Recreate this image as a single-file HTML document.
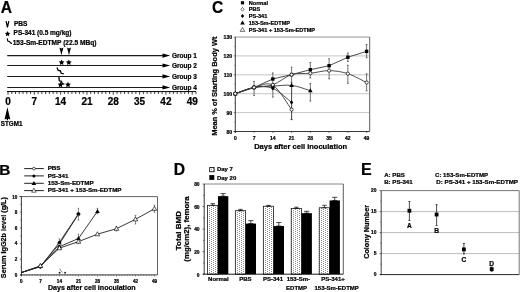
<!DOCTYPE html><html><head><meta charset="utf-8"><style>html,body{margin:0;padding:0;background:#fff;}svg{display:block;filter:blur(0.38px);}text{font-family:"Liberation Sans",sans-serif;font-weight:bold;fill:#000;stroke:#000;stroke-width:0.22px;}</style></head><body>
<svg width="520" height="292" viewBox="0 0 520 292">
<defs><pattern id="dots" width="4" height="2" patternUnits="userSpaceOnUse"><rect width="4" height="2" fill="#fff"/><rect x="1" y="0" width="1" height="1" fill="#8c8c8c"/><rect x="3" y="1" width="1" height="1" fill="#8c8c8c"/></pattern></defs>
<rect width="520" height="292" fill="#fff"/>
<text x="0.70" y="12.60" font-size="15.6" text-anchor="start" >A</text>
<path d="M6.1,21.2 L7.45,27.3 L8.8,21.2" fill="none" stroke="#000" stroke-width="1.25"/>
<text x="13.90" y="26.30" font-size="6.5" text-anchor="start" >PBS</text>
<polygon points="7.60,30.90 8.45,32.63 10.36,32.90 8.98,34.25 9.30,36.15 7.60,35.25 5.90,36.15 6.22,34.25 4.84,32.90 6.75,32.63" fill="#000"/>
<text x="13.60" y="35.40" font-size="6.5" text-anchor="start" >PS-341 (0.5 mg/kg)</text>
<path d="M7.2,38.3 L7.8,41.0 L9.2,41.5 L11.9,43.7" fill="none" stroke="#000" stroke-width="1.1"/>
<text x="12.70" y="45.00" font-size="6.6" text-anchor="start" >153-Sm-EDTMP (22.5 MBq)</text>
<line x1="7.2" y1="55.6" x2="164" y2="55.6" stroke="#1a1a1a" stroke-width="1.05"/>
<path d="M162.5,53.5 L170.2,55.6 L162.5,57.7 Z" fill="#000"/>
<text x="172.00" y="58.20" font-size="6.5" text-anchor="start" >Group 1</text>
<line x1="7.2" y1="65.5" x2="164" y2="65.5" stroke="#1a1a1a" stroke-width="1.05"/>
<path d="M162.5,63.4 L170.2,65.5 L162.5,67.6 Z" fill="#000"/>
<text x="172.00" y="68.10" font-size="6.5" text-anchor="start" >Group 2</text>
<line x1="7.2" y1="76.4" x2="164" y2="76.4" stroke="#1a1a1a" stroke-width="1.05"/>
<path d="M162.5,74.30000000000001 L170.2,76.4 L162.5,78.5 Z" fill="#000"/>
<text x="172.00" y="79.00" font-size="6.5" text-anchor="start" >Group 3</text>
<line x1="7.2" y1="87.4" x2="164" y2="87.4" stroke="#1a1a1a" stroke-width="1.05"/>
<path d="M162.5,85.30000000000001 L170.2,87.4 L162.5,89.5 Z" fill="#000"/>
<text x="172.00" y="90.00" font-size="6.5" text-anchor="start" >Group 4</text>
<path d="M59.40,47.4 L61.40,48.6 L63.40,47.4 L61.40,55.3 Z" fill="#000"/>
<path d="M67.00,47.4 L69.00,48.6 L71.00,47.4 L69.00,55.3 Z" fill="#000"/>
<polygon points="61.60,59.50 62.48,61.29 64.45,61.57 63.03,62.96 63.36,64.93 61.60,64.00 59.84,64.93 60.17,62.96 58.75,61.57 60.72,61.29" fill="#000"/>
<polygon points="68.80,59.50 69.68,61.29 71.65,61.57 70.23,62.96 70.56,64.93 68.80,64.00 67.04,64.93 67.37,62.96 65.95,61.57 67.92,61.29" fill="#000"/>
<path d="M57.0,67.6 L58.2,70.4 L60.4,70.8 L61.2,73.3 L63.8,73.9" fill="none" stroke="#000" stroke-width="1.3"/>
<path d="M58.9,76.9 L59.3,80.8 L61.5,81.3 L62.2,83.6 L64.4,84.1" fill="none" stroke="#000" stroke-width="1.3"/>
<polygon points="60.50,81.80 61.38,83.59 63.35,83.87 61.93,85.26 62.26,87.23 60.50,86.30 58.74,87.23 59.07,85.26 57.65,83.87 59.62,83.59" fill="#000"/>
<polygon points="68.00,81.80 68.88,83.59 70.85,83.87 69.43,85.26 69.76,87.23 68.00,86.30 66.24,87.23 66.57,85.26 65.15,83.87 67.12,83.59" fill="#000"/>
<line x1="7.0" y1="91.6" x2="196" y2="91.6" stroke="#000" stroke-width="1"/>
<line x1="8.00" y1="91.6" x2="8.00" y2="94.80" stroke="#000" stroke-width="0.7"/>
<line x1="11.76" y1="91.6" x2="11.76" y2="94.10" stroke="#000" stroke-width="0.7"/>
<line x1="15.52" y1="91.6" x2="15.52" y2="94.10" stroke="#000" stroke-width="0.7"/>
<line x1="19.28" y1="91.6" x2="19.28" y2="94.10" stroke="#000" stroke-width="0.7"/>
<line x1="23.04" y1="91.6" x2="23.04" y2="94.10" stroke="#000" stroke-width="0.7"/>
<line x1="26.80" y1="91.6" x2="26.80" y2="94.10" stroke="#000" stroke-width="0.7"/>
<line x1="30.56" y1="91.6" x2="30.56" y2="94.10" stroke="#000" stroke-width="0.7"/>
<line x1="34.32" y1="91.6" x2="34.32" y2="94.80" stroke="#000" stroke-width="0.7"/>
<line x1="38.08" y1="91.6" x2="38.08" y2="94.10" stroke="#000" stroke-width="0.7"/>
<line x1="41.84" y1="91.6" x2="41.84" y2="94.10" stroke="#000" stroke-width="0.7"/>
<line x1="45.60" y1="91.6" x2="45.60" y2="94.10" stroke="#000" stroke-width="0.7"/>
<line x1="49.36" y1="91.6" x2="49.36" y2="94.10" stroke="#000" stroke-width="0.7"/>
<line x1="53.12" y1="91.6" x2="53.12" y2="94.10" stroke="#000" stroke-width="0.7"/>
<line x1="56.88" y1="91.6" x2="56.88" y2="94.10" stroke="#000" stroke-width="0.7"/>
<line x1="60.64" y1="91.6" x2="60.64" y2="94.80" stroke="#000" stroke-width="0.7"/>
<line x1="64.40" y1="91.6" x2="64.40" y2="94.10" stroke="#000" stroke-width="0.7"/>
<line x1="68.16" y1="91.6" x2="68.16" y2="94.10" stroke="#000" stroke-width="0.7"/>
<line x1="71.92" y1="91.6" x2="71.92" y2="94.10" stroke="#000" stroke-width="0.7"/>
<line x1="75.68" y1="91.6" x2="75.68" y2="94.10" stroke="#000" stroke-width="0.7"/>
<line x1="79.44" y1="91.6" x2="79.44" y2="94.10" stroke="#000" stroke-width="0.7"/>
<line x1="83.20" y1="91.6" x2="83.20" y2="94.10" stroke="#000" stroke-width="0.7"/>
<line x1="86.96" y1="91.6" x2="86.96" y2="94.80" stroke="#000" stroke-width="0.7"/>
<line x1="90.72" y1="91.6" x2="90.72" y2="94.10" stroke="#000" stroke-width="0.7"/>
<line x1="94.48" y1="91.6" x2="94.48" y2="94.10" stroke="#000" stroke-width="0.7"/>
<line x1="98.24" y1="91.6" x2="98.24" y2="94.10" stroke="#000" stroke-width="0.7"/>
<line x1="102.00" y1="91.6" x2="102.00" y2="94.10" stroke="#000" stroke-width="0.7"/>
<line x1="105.76" y1="91.6" x2="105.76" y2="94.10" stroke="#000" stroke-width="0.7"/>
<line x1="109.52" y1="91.6" x2="109.52" y2="94.10" stroke="#000" stroke-width="0.7"/>
<line x1="113.28" y1="91.6" x2="113.28" y2="94.80" stroke="#000" stroke-width="0.7"/>
<line x1="117.04" y1="91.6" x2="117.04" y2="94.10" stroke="#000" stroke-width="0.7"/>
<line x1="120.80" y1="91.6" x2="120.80" y2="94.10" stroke="#000" stroke-width="0.7"/>
<line x1="124.56" y1="91.6" x2="124.56" y2="94.10" stroke="#000" stroke-width="0.7"/>
<line x1="128.32" y1="91.6" x2="128.32" y2="94.10" stroke="#000" stroke-width="0.7"/>
<line x1="132.08" y1="91.6" x2="132.08" y2="94.10" stroke="#000" stroke-width="0.7"/>
<line x1="135.84" y1="91.6" x2="135.84" y2="94.10" stroke="#000" stroke-width="0.7"/>
<line x1="139.60" y1="91.6" x2="139.60" y2="94.80" stroke="#000" stroke-width="0.7"/>
<line x1="143.36" y1="91.6" x2="143.36" y2="94.10" stroke="#000" stroke-width="0.7"/>
<line x1="147.12" y1="91.6" x2="147.12" y2="94.10" stroke="#000" stroke-width="0.7"/>
<line x1="150.88" y1="91.6" x2="150.88" y2="94.10" stroke="#000" stroke-width="0.7"/>
<line x1="154.64" y1="91.6" x2="154.64" y2="94.10" stroke="#000" stroke-width="0.7"/>
<line x1="158.40" y1="91.6" x2="158.40" y2="94.10" stroke="#000" stroke-width="0.7"/>
<line x1="162.16" y1="91.6" x2="162.16" y2="94.10" stroke="#000" stroke-width="0.7"/>
<line x1="165.92" y1="91.6" x2="165.92" y2="94.80" stroke="#000" stroke-width="0.7"/>
<line x1="169.68" y1="91.6" x2="169.68" y2="94.10" stroke="#000" stroke-width="0.7"/>
<line x1="173.44" y1="91.6" x2="173.44" y2="94.10" stroke="#000" stroke-width="0.7"/>
<line x1="177.20" y1="91.6" x2="177.20" y2="94.10" stroke="#000" stroke-width="0.7"/>
<line x1="180.96" y1="91.6" x2="180.96" y2="94.10" stroke="#000" stroke-width="0.7"/>
<line x1="184.72" y1="91.6" x2="184.72" y2="94.10" stroke="#000" stroke-width="0.7"/>
<line x1="188.48" y1="91.6" x2="188.48" y2="94.10" stroke="#000" stroke-width="0.7"/>
<line x1="192.24" y1="91.6" x2="192.24" y2="94.80" stroke="#000" stroke-width="0.7"/>
<line x1="196.00" y1="91.6" x2="196.00" y2="94.10" stroke="#000" stroke-width="0.7"/>
<text x="8.00" y="105.30" font-size="10" text-anchor="middle" >0</text>
<text x="34.32" y="105.30" font-size="10" text-anchor="middle" >7</text>
<text x="60.64" y="105.30" font-size="10" text-anchor="middle" >14</text>
<text x="86.96" y="105.30" font-size="10" text-anchor="middle" >21</text>
<text x="113.28" y="105.30" font-size="10" text-anchor="middle" >28</text>
<text x="139.60" y="105.30" font-size="10" text-anchor="middle" >35</text>
<text x="165.92" y="105.30" font-size="10" text-anchor="middle" >42</text>
<text x="192.24" y="105.30" font-size="10" text-anchor="middle" >49</text>
<path d="M7.4,107.2 L10.3,119.5 L7.4,118.6 L4.5,119.5 Z" fill="#000"/>
<line x1="7.4" y1="116" x2="7.4" y2="120.2" stroke="#000" stroke-width="1.2"/>
<text x="0.80" y="125.90" font-size="6.3" text-anchor="start" >STGM1</text>
<text x="212.00" y="12.50" font-size="15.6" text-anchor="start" >C</text>
<rect x="240.90" y="1.20" width="3.20" height="3.20" fill="#000"/>
<text x="248.70" y="4.70" font-size="5.6" text-anchor="start" >Normal</text>
<path d="M242.50,7.38 L244.10,9.30 L242.50,11.22 L240.90,9.30 Z" fill="#fff" stroke="#000" stroke-width="0.55"/>
<text x="248.70" y="11.20" font-size="5.6" text-anchor="start" >PBS</text>
<path d="M242.50,13.96 L244.20,16.00 L242.50,18.04 L240.80,16.00 Z" fill="#000"/>
<text x="248.70" y="17.90" font-size="5.6" text-anchor="start" >PS-341</text>
<path d="M242.50,20.50 L244.80,24.50 L240.20,24.50 Z" fill="#000"/>
<text x="248.70" y="24.80" font-size="5.6" text-anchor="start" >153-Sm-EDTMP</text>
<path d="M242.50,27.40 L244.80,31.40 L240.20,31.40 Z" fill="#fff" stroke="#000" stroke-width="0.55"/>
<text x="248.70" y="31.70" font-size="5.6" text-anchor="start" >PS-341 + 153-Sm-EDTMP</text>
<line x1="235.3" y1="112.60" x2="369.6" y2="112.60" stroke="#b8b8b8" stroke-width="0.8"/>
<line x1="235.3" y1="93.70" x2="369.6" y2="93.70" stroke="#b8b8b8" stroke-width="0.8"/>
<line x1="235.3" y1="74.80" x2="369.6" y2="74.80" stroke="#b8b8b8" stroke-width="0.8"/>
<line x1="235.3" y1="55.90" x2="369.6" y2="55.90" stroke="#b8b8b8" stroke-width="0.8"/>
<line x1="235.3" y1="37.00" x2="369.6" y2="37.00" stroke="#888" stroke-width="0.9"/>
<line x1="369.6" y1="37.00" x2="369.6" y2="131.5" stroke="#777" stroke-width="1.2"/>
<line x1="235.3" y1="37.00" x2="235.3" y2="133.0" stroke="#222" stroke-width="0.9"/>
<line x1="233.8" y1="131.5" x2="369.6" y2="131.5" stroke="#222" stroke-width="0.9"/>
<line x1="233.70000000000002" y1="131.50" x2="235.3" y2="131.50" stroke="#333" stroke-width="0.6"/>
<text x="232.20" y="133.70" font-size="5.2" text-anchor="end" >80</text>
<line x1="233.70000000000002" y1="112.60" x2="235.3" y2="112.60" stroke="#333" stroke-width="0.6"/>
<text x="232.20" y="114.80" font-size="5.2" text-anchor="end" >90</text>
<line x1="233.70000000000002" y1="93.70" x2="235.3" y2="93.70" stroke="#333" stroke-width="0.6"/>
<text x="232.20" y="95.90" font-size="5.2" text-anchor="end" >100</text>
<line x1="233.70000000000002" y1="74.80" x2="235.3" y2="74.80" stroke="#333" stroke-width="0.6"/>
<text x="232.20" y="77.00" font-size="5.2" text-anchor="end" >110</text>
<line x1="233.70000000000002" y1="55.90" x2="235.3" y2="55.90" stroke="#333" stroke-width="0.6"/>
<text x="232.20" y="58.10" font-size="5.2" text-anchor="end" >120</text>
<line x1="233.70000000000002" y1="37.00" x2="235.3" y2="37.00" stroke="#333" stroke-width="0.6"/>
<text x="232.20" y="39.20" font-size="5.2" text-anchor="end" >130</text>
<line x1="234.3" y1="122.05" x2="235.3" y2="122.05" stroke="#333" stroke-width="0.5"/>
<line x1="234.3" y1="103.15" x2="235.3" y2="103.15" stroke="#333" stroke-width="0.5"/>
<line x1="234.3" y1="84.25" x2="235.3" y2="84.25" stroke="#333" stroke-width="0.5"/>
<line x1="234.3" y1="65.35" x2="235.3" y2="65.35" stroke="#333" stroke-width="0.5"/>
<line x1="234.3" y1="46.45" x2="235.3" y2="46.45" stroke="#333" stroke-width="0.5"/>
<line x1="235.30" y1="131.5" x2="235.30" y2="133.0" stroke="#333" stroke-width="0.6"/>
<text x="235.30" y="140.30" font-size="5.0" text-anchor="middle" >0</text>
<line x1="254.06" y1="131.5" x2="254.06" y2="133.0" stroke="#333" stroke-width="0.6"/>
<text x="254.06" y="140.30" font-size="5.0" text-anchor="middle" >7</text>
<line x1="272.82" y1="131.5" x2="272.82" y2="133.0" stroke="#333" stroke-width="0.6"/>
<text x="272.82" y="140.30" font-size="5.0" text-anchor="middle" >14</text>
<line x1="291.58" y1="131.5" x2="291.58" y2="133.0" stroke="#333" stroke-width="0.6"/>
<text x="291.58" y="140.30" font-size="5.0" text-anchor="middle" >21</text>
<line x1="310.34" y1="131.5" x2="310.34" y2="133.0" stroke="#333" stroke-width="0.6"/>
<text x="310.34" y="140.30" font-size="5.0" text-anchor="middle" >28</text>
<line x1="329.10" y1="131.5" x2="329.10" y2="133.0" stroke="#333" stroke-width="0.6"/>
<text x="329.10" y="140.30" font-size="5.0" text-anchor="middle" >35</text>
<line x1="347.86" y1="131.5" x2="347.86" y2="133.0" stroke="#333" stroke-width="0.6"/>
<text x="347.86" y="140.30" font-size="5.0" text-anchor="middle" >42</text>
<line x1="366.62" y1="131.5" x2="366.62" y2="133.0" stroke="#333" stroke-width="0.6"/>
<text x="366.62" y="140.30" font-size="5.0" text-anchor="middle" >49</text>
<text x="254.20" y="148.60" font-size="7.5" text-anchor="start" >Days after cell inoculation</text>
<text transform="translate(217.1,86.2) rotate(-90)" font-size="7.45" text-anchor="middle">Mean % of Starting Body Wt</text>
<line x1="254.06" y1="81.41" x2="254.06" y2="95.59" stroke="#444" stroke-width="0.75"/>
<line x1="253.16" y1="81.41" x2="254.96" y2="81.41" stroke="#444" stroke-width="0.75"/>
<line x1="253.16" y1="95.59" x2="254.96" y2="95.59" stroke="#444" stroke-width="0.75"/>
<line x1="272.82" y1="72.91" x2="272.82" y2="97.10" stroke="#444" stroke-width="0.75"/>
<line x1="271.92" y1="72.91" x2="273.72" y2="72.91" stroke="#444" stroke-width="0.75"/>
<line x1="271.92" y1="97.10" x2="273.72" y2="97.10" stroke="#444" stroke-width="0.75"/>
<line x1="291.58" y1="67.24" x2="291.58" y2="119.59" stroke="#444" stroke-width="0.75"/>
<line x1="290.68" y1="67.24" x2="292.48" y2="67.24" stroke="#444" stroke-width="0.75"/>
<line x1="290.68" y1="119.59" x2="292.48" y2="119.59" stroke="#444" stroke-width="0.75"/>
<line x1="291.58" y1="82.36" x2="291.58" y2="119.59" stroke="#444" stroke-width="0.75"/>
<line x1="290.68" y1="82.36" x2="292.48" y2="82.36" stroke="#444" stroke-width="0.75"/>
<line x1="290.68" y1="119.59" x2="292.48" y2="119.59" stroke="#444" stroke-width="0.75"/>
<line x1="310.34" y1="62.52" x2="310.34" y2="78.01" stroke="#444" stroke-width="0.75"/>
<line x1="309.44" y1="62.52" x2="311.24" y2="62.52" stroke="#444" stroke-width="0.75"/>
<line x1="309.44" y1="78.01" x2="311.24" y2="78.01" stroke="#444" stroke-width="0.75"/>
<line x1="329.10" y1="58.73" x2="329.10" y2="78.77" stroke="#444" stroke-width="0.75"/>
<line x1="328.20" y1="58.73" x2="330.00" y2="58.73" stroke="#444" stroke-width="0.75"/>
<line x1="328.20" y1="78.77" x2="330.00" y2="78.77" stroke="#444" stroke-width="0.75"/>
<line x1="347.86" y1="53.06" x2="347.86" y2="61.57" stroke="#444" stroke-width="0.75"/>
<line x1="346.96" y1="53.06" x2="348.76" y2="53.06" stroke="#444" stroke-width="0.75"/>
<line x1="346.96" y1="61.57" x2="348.76" y2="61.57" stroke="#444" stroke-width="0.75"/>
<line x1="347.86" y1="65.35" x2="347.86" y2="83.31" stroke="#444" stroke-width="0.75"/>
<line x1="346.96" y1="65.35" x2="348.76" y2="65.35" stroke="#444" stroke-width="0.75"/>
<line x1="346.96" y1="83.31" x2="348.76" y2="83.31" stroke="#444" stroke-width="0.75"/>
<line x1="366.62" y1="44.56" x2="366.62" y2="57.79" stroke="#444" stroke-width="0.75"/>
<line x1="365.72" y1="44.56" x2="367.52" y2="44.56" stroke="#444" stroke-width="0.75"/>
<line x1="365.72" y1="57.79" x2="367.52" y2="57.79" stroke="#444" stroke-width="0.75"/>
<line x1="366.62" y1="73.86" x2="366.62" y2="90.87" stroke="#444" stroke-width="0.75"/>
<line x1="365.72" y1="73.86" x2="367.52" y2="73.86" stroke="#444" stroke-width="0.75"/>
<line x1="365.72" y1="90.87" x2="367.52" y2="90.87" stroke="#444" stroke-width="0.75"/>
<line x1="310.34" y1="83.68" x2="310.34" y2="101.07" stroke="#444" stroke-width="0.75"/>
<line x1="309.44" y1="83.68" x2="311.24" y2="83.68" stroke="#444" stroke-width="0.75"/>
<line x1="309.44" y1="101.07" x2="311.24" y2="101.07" stroke="#444" stroke-width="0.75"/>
<polyline points="235.30,93.70 254.06,87.46 272.82,78.96 291.58,74.61 310.34,69.70 329.10,65.73 347.86,57.22 366.62,51.36" fill="none" stroke="#3a3a3a" stroke-width="0.9"/>
<path d="M235.30,93.70 C238.43,92.66 247.81,88.88 254.06,87.46 C260.31,86.05 266.57,81.51 272.82,85.19 C279.07,88.88 288.45,105.51 291.58,109.58" fill="none" stroke="#3a3a3a" stroke-width="0.9"/>
<path d="M235.30,93.70 C238.43,92.66 247.81,88.34 254.06,87.46 C260.31,86.58 266.57,85.92 272.82,88.41 C279.07,90.90 288.45,100.06 291.58,102.39" fill="none" stroke="#3a3a3a" stroke-width="0.9"/>
<path d="M235.30,93.70 C238.43,92.66 247.81,88.72 254.06,87.46 C260.31,86.20 266.57,86.49 272.82,86.14 C279.07,85.79 285.33,84.63 291.58,85.38 C297.83,86.14 307.21,89.79 310.34,90.68" fill="none" stroke="#3a3a3a" stroke-width="0.9"/>
<path d="M235.30,93.70 C238.43,92.66 247.81,88.94 254.06,87.46 C260.31,85.98 266.57,86.96 272.82,84.82 C279.07,82.68 285.33,76.53 291.58,74.61 C297.83,72.69 304.09,73.95 310.34,73.29 C316.59,72.63 322.85,70.58 329.10,70.64 C335.35,70.70 341.61,71.68 347.86,73.67 C354.11,75.65 363.49,81.07 366.62,82.55" fill="none" stroke="#3a3a3a" stroke-width="0.9"/>
<rect x="233.60" y="92.00" width="3.40" height="3.40" fill="#000"/>
<rect x="252.36" y="85.76" width="3.40" height="3.40" fill="#000"/>
<rect x="271.12" y="77.26" width="3.40" height="3.40" fill="#000"/>
<rect x="289.88" y="72.91" width="3.40" height="3.40" fill="#000"/>
<rect x="308.64" y="68.00" width="3.40" height="3.40" fill="#000"/>
<rect x="327.40" y="64.03" width="3.40" height="3.40" fill="#000"/>
<rect x="346.16" y="55.52" width="3.40" height="3.40" fill="#000"/>
<rect x="364.92" y="49.66" width="3.40" height="3.40" fill="#000"/>
<circle cx="235.30" cy="93.70" r="1.60" fill="#fff" stroke="#000" stroke-width="0.7"/>
<circle cx="254.06" cy="87.46" r="1.60" fill="#fff" stroke="#000" stroke-width="0.7"/>
<circle cx="272.82" cy="85.19" r="1.60" fill="#fff" stroke="#000" stroke-width="0.7"/>
<circle cx="291.58" cy="109.58" r="1.60" fill="#fff" stroke="#000" stroke-width="0.7"/>
<path d="M235.30,91.66 L237.00,93.70 L235.30,95.74 L233.60,93.70 Z" fill="#000"/>
<path d="M254.06,85.42 L255.76,87.46 L254.06,89.50 L252.36,87.46 Z" fill="#000"/>
<path d="M272.82,86.37 L274.52,88.41 L272.82,90.45 L271.12,88.41 Z" fill="#000"/>
<path d="M291.58,100.35 L293.28,102.39 L291.58,104.43 L289.88,102.39 Z" fill="#000"/>
<path d="M235.30,91.30 L237.60,95.30 L233.00,95.30 Z" fill="#000"/>
<path d="M254.06,85.06 L256.36,89.06 L251.76,89.06 Z" fill="#000"/>
<path d="M272.82,83.74 L275.12,87.74 L270.52,87.74 Z" fill="#000"/>
<path d="M291.58,82.98 L293.88,86.98 L289.28,86.98 Z" fill="#000"/>
<path d="M310.34,88.28 L312.64,92.28 L308.04,92.28 Z" fill="#000"/>
<circle cx="235.30" cy="93.70" r="1.60" fill="#fff" stroke="#000" stroke-width="0.7"/>
<circle cx="254.06" cy="87.46" r="1.60" fill="#fff" stroke="#000" stroke-width="0.7"/>
<circle cx="272.82" cy="84.82" r="1.60" fill="#fff" stroke="#000" stroke-width="0.7"/>
<circle cx="291.58" cy="74.61" r="1.60" fill="#fff" stroke="#000" stroke-width="0.7"/>
<circle cx="310.34" cy="73.29" r="1.60" fill="#fff" stroke="#000" stroke-width="0.7"/>
<circle cx="329.10" cy="70.64" r="1.60" fill="#fff" stroke="#000" stroke-width="0.7"/>
<circle cx="347.86" cy="73.67" r="1.60" fill="#fff" stroke="#000" stroke-width="0.7"/>
<circle cx="366.62" cy="82.55" r="1.60" fill="#fff" stroke="#000" stroke-width="0.7"/>
<text x="-0.80" y="175.10" font-size="15.4" text-anchor="start" >B</text>
<line x1="24.2" y1="168.6" x2="43.8" y2="168.6" stroke="#222" stroke-width="1.0"/>
<circle cx="33.90" cy="168.60" r="1.40" fill="#fff" stroke="#000" stroke-width="0.6"/>
<text x="47.70" y="170.35" font-size="6.22" text-anchor="start" >PBS</text>
<line x1="24.2" y1="175.9" x2="43.8" y2="175.9" stroke="#222" stroke-width="1.0"/>
<circle cx="33.90" cy="175.90" r="1.50" fill="#000"/>
<text x="47.70" y="177.65" font-size="6.22" text-anchor="start" >PS-341</text>
<line x1="24.2" y1="183.3" x2="43.8" y2="183.3" stroke="#222" stroke-width="1.0"/>
<path d="M33.90,180.90 L36.20,184.90 L31.60,184.90 Z" fill="#000"/>
<text x="47.70" y="185.05" font-size="6.22" text-anchor="start" >153-Sm-EDTMP</text>
<line x1="24.2" y1="190.6" x2="43.8" y2="190.6" stroke="#222" stroke-width="1.0"/>
<path d="M33.90,188.20 L36.20,192.20 L31.60,192.20 Z" fill="#fff" stroke="#000" stroke-width="0.6"/>
<text x="47.70" y="192.35" font-size="6.22" text-anchor="start" >PS-341 + 153-Sm-EDTMP</text>
<line x1="19.4" y1="196.6" x2="157.5" y2="196.6" stroke="#666" stroke-width="1"/>
<line x1="157.5" y1="196.5" x2="157.5" y2="274.9" stroke="#555" stroke-width="0.9"/>
<line x1="21.4" y1="196.5" x2="21.4" y2="276.09999999999997" stroke="#222" stroke-width="0.9"/>
<line x1="20.2" y1="274.9" x2="157.5" y2="274.9" stroke="#222" stroke-width="0.9"/>
<line x1="19.9" y1="274.90" x2="21.4" y2="274.90" stroke="#222" stroke-width="0.6"/>
<text x="17.30" y="276.80" font-size="4.6" text-anchor="end" >0</text>
<line x1="19.9" y1="259.24" x2="21.4" y2="259.24" stroke="#222" stroke-width="0.6"/>
<text x="17.30" y="261.14" font-size="4.6" text-anchor="end" >2</text>
<line x1="19.9" y1="243.58" x2="21.4" y2="243.58" stroke="#222" stroke-width="0.6"/>
<text x="17.30" y="245.48" font-size="4.6" text-anchor="end" >4</text>
<line x1="19.9" y1="227.92" x2="21.4" y2="227.92" stroke="#222" stroke-width="0.6"/>
<text x="17.30" y="229.82" font-size="4.6" text-anchor="end" >6</text>
<line x1="19.9" y1="212.26" x2="21.4" y2="212.26" stroke="#222" stroke-width="0.6"/>
<text x="17.30" y="214.16" font-size="4.6" text-anchor="end" >8</text>
<line x1="19.9" y1="196.60" x2="21.4" y2="196.60" stroke="#222" stroke-width="0.6"/>
<text x="17.30" y="198.50" font-size="4.6" text-anchor="end" >10</text>
<line x1="20.4" y1="267.07" x2="21.4" y2="267.07" stroke="#222" stroke-width="0.5"/>
<line x1="20.4" y1="251.41" x2="21.4" y2="251.41" stroke="#222" stroke-width="0.5"/>
<line x1="20.4" y1="235.75" x2="21.4" y2="235.75" stroke="#222" stroke-width="0.5"/>
<line x1="20.4" y1="220.09" x2="21.4" y2="220.09" stroke="#222" stroke-width="0.5"/>
<line x1="20.4" y1="204.43" x2="21.4" y2="204.43" stroke="#222" stroke-width="0.5"/>
<line x1="21.40" y1="274.9" x2="21.40" y2="276.5" stroke="#222" stroke-width="0.5"/>
<line x1="24.12" y1="274.9" x2="24.12" y2="275.9" stroke="#222" stroke-width="0.5"/>
<line x1="26.83" y1="274.9" x2="26.83" y2="275.9" stroke="#222" stroke-width="0.5"/>
<line x1="29.55" y1="274.9" x2="29.55" y2="275.9" stroke="#222" stroke-width="0.5"/>
<line x1="32.26" y1="274.9" x2="32.26" y2="275.9" stroke="#222" stroke-width="0.5"/>
<line x1="34.98" y1="274.9" x2="34.98" y2="275.9" stroke="#222" stroke-width="0.5"/>
<line x1="37.70" y1="274.9" x2="37.70" y2="275.9" stroke="#222" stroke-width="0.5"/>
<line x1="40.41" y1="274.9" x2="40.41" y2="276.5" stroke="#222" stroke-width="0.5"/>
<line x1="43.13" y1="274.9" x2="43.13" y2="275.9" stroke="#222" stroke-width="0.5"/>
<line x1="45.84" y1="274.9" x2="45.84" y2="275.9" stroke="#222" stroke-width="0.5"/>
<line x1="48.56" y1="274.9" x2="48.56" y2="275.9" stroke="#222" stroke-width="0.5"/>
<line x1="51.28" y1="274.9" x2="51.28" y2="275.9" stroke="#222" stroke-width="0.5"/>
<line x1="53.99" y1="274.9" x2="53.99" y2="275.9" stroke="#222" stroke-width="0.5"/>
<line x1="56.71" y1="274.9" x2="56.71" y2="275.9" stroke="#222" stroke-width="0.5"/>
<line x1="59.42" y1="274.9" x2="59.42" y2="276.5" stroke="#222" stroke-width="0.5"/>
<line x1="62.14" y1="274.9" x2="62.14" y2="275.9" stroke="#222" stroke-width="0.5"/>
<line x1="64.86" y1="274.9" x2="64.86" y2="275.9" stroke="#222" stroke-width="0.5"/>
<line x1="67.57" y1="274.9" x2="67.57" y2="275.9" stroke="#222" stroke-width="0.5"/>
<line x1="70.29" y1="274.9" x2="70.29" y2="275.9" stroke="#222" stroke-width="0.5"/>
<line x1="73.00" y1="274.9" x2="73.00" y2="275.9" stroke="#222" stroke-width="0.5"/>
<line x1="75.72" y1="274.9" x2="75.72" y2="275.9" stroke="#222" stroke-width="0.5"/>
<line x1="78.44" y1="274.9" x2="78.44" y2="276.5" stroke="#222" stroke-width="0.5"/>
<line x1="81.15" y1="274.9" x2="81.15" y2="275.9" stroke="#222" stroke-width="0.5"/>
<line x1="83.87" y1="274.9" x2="83.87" y2="275.9" stroke="#222" stroke-width="0.5"/>
<line x1="86.58" y1="274.9" x2="86.58" y2="275.9" stroke="#222" stroke-width="0.5"/>
<line x1="89.30" y1="274.9" x2="89.30" y2="275.9" stroke="#222" stroke-width="0.5"/>
<line x1="92.02" y1="274.9" x2="92.02" y2="275.9" stroke="#222" stroke-width="0.5"/>
<line x1="94.73" y1="274.9" x2="94.73" y2="275.9" stroke="#222" stroke-width="0.5"/>
<line x1="97.45" y1="274.9" x2="97.45" y2="276.5" stroke="#222" stroke-width="0.5"/>
<line x1="100.16" y1="274.9" x2="100.16" y2="275.9" stroke="#222" stroke-width="0.5"/>
<line x1="102.88" y1="274.9" x2="102.88" y2="275.9" stroke="#222" stroke-width="0.5"/>
<line x1="105.60" y1="274.9" x2="105.60" y2="275.9" stroke="#222" stroke-width="0.5"/>
<line x1="108.31" y1="274.9" x2="108.31" y2="275.9" stroke="#222" stroke-width="0.5"/>
<line x1="111.03" y1="274.9" x2="111.03" y2="275.9" stroke="#222" stroke-width="0.5"/>
<line x1="113.74" y1="274.9" x2="113.74" y2="275.9" stroke="#222" stroke-width="0.5"/>
<line x1="116.46" y1="274.9" x2="116.46" y2="276.5" stroke="#222" stroke-width="0.5"/>
<line x1="119.18" y1="274.9" x2="119.18" y2="275.9" stroke="#222" stroke-width="0.5"/>
<line x1="121.89" y1="274.9" x2="121.89" y2="275.9" stroke="#222" stroke-width="0.5"/>
<line x1="124.61" y1="274.9" x2="124.61" y2="275.9" stroke="#222" stroke-width="0.5"/>
<line x1="127.32" y1="274.9" x2="127.32" y2="275.9" stroke="#222" stroke-width="0.5"/>
<line x1="130.04" y1="274.9" x2="130.04" y2="275.9" stroke="#222" stroke-width="0.5"/>
<line x1="132.76" y1="274.9" x2="132.76" y2="275.9" stroke="#222" stroke-width="0.5"/>
<line x1="135.47" y1="274.9" x2="135.47" y2="276.5" stroke="#222" stroke-width="0.5"/>
<line x1="138.19" y1="274.9" x2="138.19" y2="275.9" stroke="#222" stroke-width="0.5"/>
<line x1="140.90" y1="274.9" x2="140.90" y2="275.9" stroke="#222" stroke-width="0.5"/>
<line x1="143.62" y1="274.9" x2="143.62" y2="275.9" stroke="#222" stroke-width="0.5"/>
<line x1="146.34" y1="274.9" x2="146.34" y2="275.9" stroke="#222" stroke-width="0.5"/>
<line x1="149.05" y1="274.9" x2="149.05" y2="275.9" stroke="#222" stroke-width="0.5"/>
<line x1="151.77" y1="274.9" x2="151.77" y2="275.9" stroke="#222" stroke-width="0.5"/>
<line x1="154.48" y1="274.9" x2="154.48" y2="276.5" stroke="#222" stroke-width="0.5"/>
<text x="21.40" y="283.00" font-size="4.6" text-anchor="middle" >0</text>
<text x="40.41" y="283.00" font-size="4.6" text-anchor="middle" >7</text>
<text x="59.42" y="283.00" font-size="4.6" text-anchor="middle" >14</text>
<text x="78.44" y="283.00" font-size="4.6" text-anchor="middle" >21</text>
<text x="97.45" y="283.00" font-size="4.6" text-anchor="middle" >28</text>
<text x="116.46" y="283.00" font-size="4.6" text-anchor="middle" >35</text>
<text x="135.47" y="283.00" font-size="4.6" text-anchor="middle" >42</text>
<text x="154.48" y="283.00" font-size="4.6" text-anchor="middle" >49</text>
<text x="48.00" y="289.70" font-size="7.07" text-anchor="start" >Days after cell inoculation</text>
<text transform="translate(6.0,237.6) rotate(-90)" font-size="7.28" text-anchor="middle">Serum IgG2b level (g/L)</text>
<line x1="40.41" y1="263.94" x2="40.41" y2="268.64" stroke="#222" stroke-width="0.5"/>
<line x1="39.61" y1="263.94" x2="41.21" y2="263.94" stroke="#222" stroke-width="0.5"/>
<line x1="39.61" y1="268.64" x2="41.21" y2="268.64" stroke="#222" stroke-width="0.5"/>
<line x1="59.42" y1="238.88" x2="59.42" y2="247.49" stroke="#222" stroke-width="0.5"/>
<line x1="58.62" y1="238.88" x2="60.22" y2="238.88" stroke="#222" stroke-width="0.5"/>
<line x1="58.62" y1="247.49" x2="60.22" y2="247.49" stroke="#222" stroke-width="0.5"/>
<line x1="78.44" y1="208.34" x2="78.44" y2="220.09" stroke="#222" stroke-width="0.5"/>
<line x1="77.64" y1="208.34" x2="79.24" y2="208.34" stroke="#222" stroke-width="0.5"/>
<line x1="77.64" y1="220.09" x2="79.24" y2="220.09" stroke="#222" stroke-width="0.5"/>
<line x1="78.44" y1="234.18" x2="78.44" y2="243.58" stroke="#222" stroke-width="0.5"/>
<line x1="77.64" y1="234.18" x2="79.24" y2="234.18" stroke="#222" stroke-width="0.5"/>
<line x1="77.64" y1="243.58" x2="79.24" y2="243.58" stroke="#222" stroke-width="0.5"/>
<line x1="97.45" y1="208.34" x2="97.45" y2="213.83" stroke="#222" stroke-width="0.5"/>
<line x1="96.65" y1="208.34" x2="98.25" y2="208.34" stroke="#222" stroke-width="0.5"/>
<line x1="96.65" y1="213.83" x2="98.25" y2="213.83" stroke="#222" stroke-width="0.5"/>
<line x1="116.46" y1="226.35" x2="116.46" y2="231.05" stroke="#222" stroke-width="0.5"/>
<line x1="115.66" y1="226.35" x2="117.26" y2="226.35" stroke="#222" stroke-width="0.5"/>
<line x1="115.66" y1="231.05" x2="117.26" y2="231.05" stroke="#222" stroke-width="0.5"/>
<line x1="135.47" y1="215.39" x2="135.47" y2="224.00" stroke="#222" stroke-width="0.5"/>
<line x1="134.67" y1="215.39" x2="136.27" y2="215.39" stroke="#222" stroke-width="0.5"/>
<line x1="134.67" y1="224.00" x2="136.27" y2="224.00" stroke="#222" stroke-width="0.5"/>
<line x1="154.48" y1="205.21" x2="154.48" y2="212.26" stroke="#222" stroke-width="0.5"/>
<line x1="153.68" y1="205.21" x2="155.28" y2="205.21" stroke="#222" stroke-width="0.5"/>
<line x1="153.68" y1="212.26" x2="155.28" y2="212.26" stroke="#222" stroke-width="0.5"/>
<polyline points="21.40,272.55 40.41,266.29 59.42,243.97 78.44,214.22" fill="none" stroke="#222" stroke-width="0.9"/>
<polyline points="21.40,272.55 40.41,266.68 59.42,242.41 78.44,213.83" fill="none" stroke="#222" stroke-width="0.9"/>
<polyline points="21.40,272.55 40.41,266.29 59.42,246.71 78.44,238.49 97.45,211.48" fill="none" stroke="#222" stroke-width="0.9"/>
<polyline points="21.40,272.55 40.41,265.90 59.42,248.12 78.44,241.62 97.45,234.18 116.46,228.70 135.47,219.31 154.48,208.74" fill="none" stroke="#222" stroke-width="0.9"/>
<circle cx="40.41" cy="266.29" r="1.60" fill="#fff" stroke="#000" stroke-width="0.65"/>
<circle cx="59.42" cy="243.97" r="1.60" fill="#fff" stroke="#000" stroke-width="0.65"/>
<circle cx="78.44" cy="214.22" r="1.60" fill="#fff" stroke="#000" stroke-width="0.65"/>
<circle cx="40.41" cy="266.68" r="1.70" fill="#000"/>
<circle cx="59.42" cy="242.41" r="1.70" fill="#000"/>
<circle cx="78.44" cy="213.83" r="1.70" fill="#000"/>
<path d="M40.41,263.89 L42.71,267.89 L38.11,267.89 Z" fill="#000"/>
<path d="M59.42,244.31 L61.72,248.31 L57.12,248.31 Z" fill="#000"/>
<path d="M78.44,236.09 L80.74,240.09 L76.14,240.09 Z" fill="#000"/>
<path d="M97.45,209.08 L99.75,213.08 L95.15,213.08 Z" fill="#000"/>
<path d="M40.41,263.50 L42.71,267.50 L38.11,267.50 Z" fill="#fff" stroke="#000" stroke-width="0.65"/>
<path d="M59.42,245.72 L61.72,249.72 L57.12,249.72 Z" fill="#fff" stroke="#000" stroke-width="0.65"/>
<path d="M78.44,239.22 L80.74,243.22 L76.14,243.22 Z" fill="#fff" stroke="#000" stroke-width="0.65"/>
<path d="M97.45,231.78 L99.75,235.78 L95.15,235.78 Z" fill="#fff" stroke="#000" stroke-width="0.65"/>
<path d="M116.46,226.30 L118.76,230.30 L114.16,230.30 Z" fill="#fff" stroke="#000" stroke-width="0.65"/>
<path d="M135.47,216.91 L137.77,220.91 L133.17,220.91 Z" fill="#fff" stroke="#000" stroke-width="0.65"/>
<path d="M154.48,206.34 L156.78,210.34 L152.18,210.34 Z" fill="#fff" stroke="#000" stroke-width="0.65"/>
<path d="M59.9,268.5 L60.6,270.6 L62.8,272.4" fill="none" stroke="#555" stroke-width="0.7"/>
<circle cx="59.6" cy="272.8" r="0.95" fill="#222"/><circle cx="65.1" cy="272.8" r="0.95" fill="#222"/>
<text x="173.80" y="175.30" font-size="15.7" text-anchor="start" >D</text>
<rect x="209.7" y="167.4" width="4.4" height="4.4" fill="url(#dots)" stroke="#000" stroke-width="0.8"/>
<rect x="209.3" y="175.1" width="5" height="4.8" fill="#000"/>
<text x="216.90" y="171.40" font-size="6.0" text-anchor="start" >Day 7</text>
<text x="216.90" y="179.50" font-size="6.0" text-anchor="start" >Day 20</text>
<line x1="204.2" y1="184.00" x2="343.3" y2="184.00" stroke="#777" stroke-width="0.9"/>
<line x1="343.3" y1="184.00" x2="343.3" y2="274.2" stroke="#333" stroke-width="0.8"/>
<rect x="207.60" y="205.31" width="10.35" height="68.89" fill="url(#dots)" stroke="#000" stroke-width="0.7"/>
<rect x="217.95" y="196.18" width="10.35" height="78.02" fill="#000"/>
<line x1="212.78" y1="203.62" x2="212.78" y2="205.31" stroke="#000" stroke-width="0.7"/>
<line x1="210.58" y1="203.62" x2="214.97" y2="203.62" stroke="#000" stroke-width="0.7"/>
<line x1="210.58" y1="205.31" x2="214.97" y2="205.31" stroke="#000" stroke-width="0.7"/>
<line x1="223.12" y1="193.58" x2="223.12" y2="196.18" stroke="#000" stroke-width="0.7"/>
<line x1="220.53" y1="193.58" x2="225.72" y2="193.58" stroke="#000" stroke-width="0.7"/>
<line x1="220.53" y1="196.18" x2="225.72" y2="196.18" stroke="#000" stroke-width="0.7"/>
<rect x="235.30" y="210.72" width="10.35" height="63.48" fill="url(#dots)" stroke="#000" stroke-width="0.7"/>
<rect x="245.65" y="223.58" width="10.35" height="50.62" fill="#000"/>
<line x1="240.48" y1="209.37" x2="240.48" y2="210.72" stroke="#000" stroke-width="0.7"/>
<line x1="238.28" y1="209.37" x2="242.68" y2="209.37" stroke="#000" stroke-width="0.7"/>
<line x1="238.28" y1="210.72" x2="242.68" y2="210.72" stroke="#000" stroke-width="0.7"/>
<line x1="250.83" y1="220.64" x2="250.83" y2="223.58" stroke="#000" stroke-width="0.7"/>
<line x1="248.23" y1="220.64" x2="253.43" y2="220.64" stroke="#000" stroke-width="0.7"/>
<line x1="248.23" y1="223.58" x2="253.43" y2="223.58" stroke="#000" stroke-width="0.7"/>
<rect x="263.30" y="206.21" width="10.35" height="67.99" fill="url(#dots)" stroke="#000" stroke-width="0.7"/>
<rect x="273.65" y="226.06" width="10.35" height="48.14" fill="#000"/>
<line x1="268.48" y1="205.42" x2="268.48" y2="206.21" stroke="#000" stroke-width="0.7"/>
<line x1="266.28" y1="205.42" x2="270.68" y2="205.42" stroke="#000" stroke-width="0.7"/>
<line x1="266.28" y1="206.21" x2="270.68" y2="206.21" stroke="#000" stroke-width="0.7"/>
<line x1="278.82" y1="222.56" x2="278.82" y2="226.06" stroke="#000" stroke-width="0.7"/>
<line x1="276.22" y1="222.56" x2="281.43" y2="222.56" stroke="#000" stroke-width="0.7"/>
<line x1="276.22" y1="226.06" x2="281.43" y2="226.06" stroke="#000" stroke-width="0.7"/>
<rect x="291.20" y="208.35" width="10.35" height="65.85" fill="url(#dots)" stroke="#000" stroke-width="0.7"/>
<rect x="301.55" y="213.20" width="10.35" height="61.00" fill="#000"/>
<line x1="296.38" y1="207.23" x2="296.38" y2="208.35" stroke="#000" stroke-width="0.7"/>
<line x1="294.18" y1="207.23" x2="298.57" y2="207.23" stroke="#000" stroke-width="0.7"/>
<line x1="294.18" y1="208.35" x2="298.57" y2="208.35" stroke="#000" stroke-width="0.7"/>
<line x1="306.72" y1="211.29" x2="306.72" y2="213.20" stroke="#000" stroke-width="0.7"/>
<line x1="304.12" y1="211.29" x2="309.32" y2="211.29" stroke="#000" stroke-width="0.7"/>
<line x1="304.12" y1="213.20" x2="309.32" y2="213.20" stroke="#000" stroke-width="0.7"/>
<rect x="319.20" y="207.79" width="10.35" height="66.41" fill="url(#dots)" stroke="#000" stroke-width="0.7"/>
<rect x="329.55" y="200.46" width="10.35" height="73.74" fill="#000"/>
<line x1="324.38" y1="205.31" x2="324.38" y2="207.79" stroke="#000" stroke-width="0.7"/>
<line x1="322.18" y1="205.31" x2="326.57" y2="205.31" stroke="#000" stroke-width="0.7"/>
<line x1="322.18" y1="207.79" x2="326.57" y2="207.79" stroke="#000" stroke-width="0.7"/>
<line x1="334.72" y1="197.30" x2="334.72" y2="200.46" stroke="#000" stroke-width="0.7"/>
<line x1="332.12" y1="197.30" x2="337.32" y2="197.30" stroke="#000" stroke-width="0.7"/>
<line x1="332.12" y1="200.46" x2="337.32" y2="200.46" stroke="#000" stroke-width="0.7"/>
<line x1="204.2" y1="184.00" x2="204.2" y2="274.2" stroke="#000" stroke-width="0.8"/>
<line x1="202.79999999999998" y1="274.2" x2="343.3" y2="274.2" stroke="#000" stroke-width="0.9"/>
<line x1="202.6" y1="274.20" x2="204.2" y2="274.20" stroke="#000" stroke-width="0.6"/>
<line x1="203.2" y1="262.93" x2="204.2" y2="262.93" stroke="#000" stroke-width="0.6"/>
<line x1="202.6" y1="251.65" x2="204.2" y2="251.65" stroke="#000" stroke-width="0.6"/>
<line x1="203.2" y1="240.38" x2="204.2" y2="240.38" stroke="#000" stroke-width="0.6"/>
<line x1="202.6" y1="229.10" x2="204.2" y2="229.10" stroke="#000" stroke-width="0.6"/>
<line x1="203.2" y1="217.82" x2="204.2" y2="217.82" stroke="#000" stroke-width="0.6"/>
<line x1="202.6" y1="206.55" x2="204.2" y2="206.55" stroke="#000" stroke-width="0.6"/>
<line x1="203.2" y1="195.27" x2="204.2" y2="195.27" stroke="#000" stroke-width="0.6"/>
<line x1="202.6" y1="184.00" x2="204.2" y2="184.00" stroke="#000" stroke-width="0.6"/>
<text x="199.60" y="276.50" font-size="4.9" text-anchor="end" >0</text>
<text x="199.60" y="253.95" font-size="4.9" text-anchor="end" >20</text>
<text x="199.60" y="231.40" font-size="4.9" text-anchor="end" >40</text>
<text x="199.60" y="208.85" font-size="4.9" text-anchor="end" >60</text>
<text x="199.60" y="186.30" font-size="4.9" text-anchor="end" >80</text>
<text x="218.40" y="281.00" font-size="6.0" text-anchor="middle" >Normal</text>
<text x="245.30" y="281.00" font-size="6.0" text-anchor="middle" >PBS</text>
<text x="273.00" y="281.00" font-size="6.0" text-anchor="middle" >PS-341</text>
<text x="298.30" y="281.00" font-size="6.0" text-anchor="middle" >153-Sm-</text>
<text x="333.00" y="281.00" font-size="6.0" text-anchor="middle" >PS-341+</text>
<text x="296.60" y="290.40" font-size="6.0" text-anchor="middle" >EDTMP</text>
<text x="336.70" y="290.40" font-size="6.0" text-anchor="middle" >153-Sm-EDTMP</text>
<text transform="translate(181.0,230.6) rotate(-90)" font-size="8.05" text-anchor="middle">Total BMD</text>
<text transform="translate(188.9,229.0) rotate(-90)" font-size="7.85" text-anchor="middle">(mg/cm2), femora</text>
<text x="361.00" y="175.40" font-size="16" text-anchor="start" >E</text>
<text x="384.20" y="176.70" font-size="6.1" text-anchor="start" >A: PBS</text>
<text x="384.20" y="183.60" font-size="6.1" text-anchor="start" >B: PS-341</text>
<text x="435.00" y="176.70" font-size="6.1" text-anchor="start" >C: 153-Sm-EDTMP</text>
<text x="436.30" y="184.40" font-size="6.2" text-anchor="start" >D: PS-341 + 153-Sm-EDTMP</text>
<line x1="381.2" y1="253.60" x2="519.2" y2="253.60" stroke="#aaa" stroke-width="0.8"/>
<line x1="381.2" y1="232.60" x2="519.2" y2="232.60" stroke="#aaa" stroke-width="0.8"/>
<line x1="381.2" y1="211.60" x2="519.2" y2="211.60" stroke="#aaa" stroke-width="0.8"/>
<line x1="381.2" y1="190.60" x2="519.2" y2="190.60" stroke="#666" stroke-width="0.9"/>
<line x1="519.2" y1="190.60" x2="519.2" y2="274.6" stroke="#666" stroke-width="0.9"/>
<line x1="381.2" y1="190.60" x2="381.2" y2="274.6" stroke="#111" stroke-width="0.8"/>
<line x1="380.0" y1="274.6" x2="519.2" y2="274.6" stroke="#111" stroke-width="0.9"/>
<line x1="379.59999999999997" y1="274.60" x2="381.2" y2="274.60" stroke="#111" stroke-width="0.6"/>
<text x="376.40" y="276.40" font-size="4.9" text-anchor="end" >0</text>
<line x1="379.59999999999997" y1="253.60" x2="381.2" y2="253.60" stroke="#111" stroke-width="0.6"/>
<text x="376.40" y="255.40" font-size="4.9" text-anchor="end" >5</text>
<line x1="379.59999999999997" y1="232.60" x2="381.2" y2="232.60" stroke="#111" stroke-width="0.6"/>
<text x="376.40" y="234.40" font-size="4.9" text-anchor="end" >10</text>
<line x1="379.59999999999997" y1="211.60" x2="381.2" y2="211.60" stroke="#111" stroke-width="0.6"/>
<text x="376.40" y="213.40" font-size="4.9" text-anchor="end" >15</text>
<line x1="379.59999999999997" y1="190.60" x2="381.2" y2="190.60" stroke="#111" stroke-width="0.6"/>
<text x="376.40" y="192.40" font-size="4.9" text-anchor="end" >20</text>
<line x1="380.2" y1="264.10" x2="381.2" y2="264.10" stroke="#111" stroke-width="0.5"/>
<line x1="380.2" y1="243.10" x2="381.2" y2="243.10" stroke="#111" stroke-width="0.5"/>
<line x1="380.2" y1="222.10" x2="381.2" y2="222.10" stroke="#111" stroke-width="0.5"/>
<line x1="380.2" y1="201.10" x2="381.2" y2="201.10" stroke="#111" stroke-width="0.5"/>
<text transform="translate(368.6,231.9) rotate(-90)" font-size="7.24" text-anchor="middle">Colony Number</text>
<line x1="409.40" y1="201.52" x2="409.40" y2="220.42" stroke="#222" stroke-width="0.8"/>
<line x1="408.40" y1="201.52" x2="410.40" y2="201.52" stroke="#222" stroke-width="0.8"/>
<line x1="408.40" y1="220.42" x2="410.40" y2="220.42" stroke="#222" stroke-width="0.8"/>
<rect x="407.50" y="208.86" width="3.8" height="3.8" fill="#000"/>
<text x="409.40" y="228.10" font-size="6.6" text-anchor="middle" >A</text>
<line x1="436.60" y1="204.67" x2="436.60" y2="225.46" stroke="#222" stroke-width="0.8"/>
<line x1="435.60" y1="204.67" x2="437.60" y2="204.67" stroke="#222" stroke-width="0.8"/>
<line x1="435.60" y1="225.46" x2="437.60" y2="225.46" stroke="#222" stroke-width="0.8"/>
<rect x="434.70" y="212.64" width="3.8" height="3.8" fill="#000"/>
<text x="436.60" y="232.90" font-size="6.6" text-anchor="middle" >B</text>
<line x1="463.90" y1="243.52" x2="463.90" y2="254.02" stroke="#222" stroke-width="0.8"/>
<line x1="462.90" y1="243.52" x2="464.90" y2="243.52" stroke="#222" stroke-width="0.8"/>
<line x1="462.90" y1="254.02" x2="464.90" y2="254.02" stroke="#222" stroke-width="0.8"/>
<rect x="462.00" y="247.50" width="3.8" height="3.8" fill="#000"/>
<text x="463.90" y="262.10" font-size="6.6" text-anchor="middle" >C</text>
<line x1="491.70" y1="267.04" x2="491.70" y2="271.24" stroke="#222" stroke-width="0.8"/>
<line x1="490.70" y1="267.04" x2="492.70" y2="267.04" stroke="#222" stroke-width="0.8"/>
<line x1="490.70" y1="271.24" x2="492.70" y2="271.24" stroke="#222" stroke-width="0.8"/>
<rect x="489.80" y="267.24" width="3.8" height="3.8" fill="#000"/>
<text x="491.70" y="265.80" font-size="6.6" text-anchor="middle" >D</text>
</svg></body></html>
